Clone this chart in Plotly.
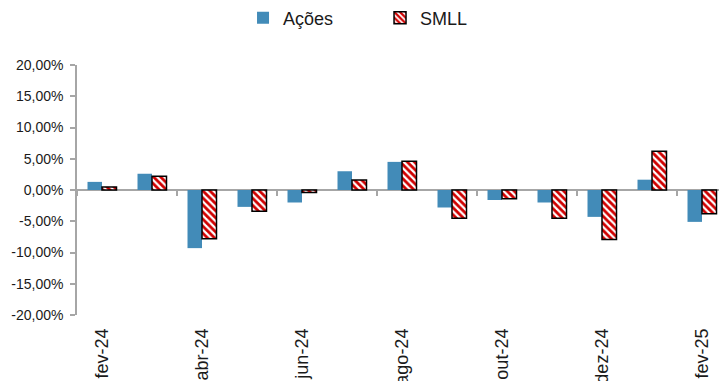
import plotly.graph_objects as go

# Monthly returns (%), fev-24 .. fev-25
months = ["fev-24", "mar-24", "abr-24", "mai-24", "jun-24", "jul-24", "ago-24",
          "set-24", "out-24", "nov-24", "dez-24", "jan-25", "fev-25"]
acoes = [1.3, 2.6, -9.3, -2.7, -2.0, 3.0, 4.5, -2.8, -1.6, -2.0, -4.3, 1.65, -5.1]
smll = [0.5, 2.2, -7.8, -3.4, -0.4, 1.6, 4.6, -4.5, -1.4, -4.5, -7.9, 6.2, -3.8]

y_ticks = [20, 15, 10, 5, 0, -5, -10, -15, -20]
y_ticktext = ["20,00%", "15,00%", "10,00%", "5,00%", "0,00%",
              "-5,00%", "-10,00%", "-15,00%", "-20,00%"]

FONT = "Liberation Sans, Arial, Helvetica, sans-serif"
GRAY = "#a6a6a6"
x_range = [-0.5, 12.34]

fig = go.Figure()
fig.add_trace(go.Bar(
    x=months, y=acoes, name="Ações",
    marker=dict(color="#428bb8", line=dict(width=0)),
))
fig.add_trace(go.Bar(
    x=months, y=smll, name="SMLL",
    marker=dict(
        color="white",
        line=dict(color="black", width=1.5),
        pattern=dict(shape="\\", fgcolor="#d00000", bgcolor="white",
                     fgopacity=1, size=5, solidity=0.55, fillmode="replace"),
    ),
))
# helper trace carrying the tick-mark axis that sits on the zero line
fig.add_trace(go.Scatter(x=[0], y=[0], xaxis="x2", mode="markers",
                         marker=dict(opacity=0), showlegend=False,
                         hoverinfo="skip"))

fig.update_layout(
    width=719, height=381,
    margin=dict(l=77, r=0, t=65, b=66, autoexpand=False),
    paper_bgcolor="white", plot_bgcolor="white",
    font=dict(family=FONT, color="#1a1a1a", size=14),
    barmode="group", bargap=0.42, bargroupgap=0,
    showlegend=True,
    legend=dict(orientation="h", x=0.472, xanchor="center",
                y=1 - 18 / 381, yref="container", yanchor="middle",
                font=dict(size=18, family=FONT), entrywidth=92,
                itemwidth=30, traceorder="normal"),
    xaxis=dict(
        type="category", range=x_range, tickmode="array",
        tickvals=months[::2], ticktext=months[::2], tickangle=-90,
        ticks="", showline=False, showgrid=False, zeroline=False,
        ticklabelstandoff=9, automargin=False,
        tickfont=dict(size=18, family=FONT),
    ),
    xaxis2=dict(
        overlaying="x", anchor="free", position=0.5, side="bottom",
        range=x_range, tick0=1.5, dtick=2, ticks="outside", ticklen=5,
        tickwidth=1.5, tickcolor=GRAY, showticklabels=False,
        showline=False, showgrid=False, zeroline=False,
    ),
    yaxis=dict(
        range=[-20, 20], tickmode="array", tickvals=y_ticks,
        ticktext=y_ticktext, ticks="outside", ticklen=5, tickwidth=1.5,
        tickcolor=GRAY, showline=True, linecolor=GRAY, linewidth=1.5,
        showgrid=False, zeroline=True, zerolinecolor=GRAY, zerolinewidth=2,
        ticklabelstandoff=4, automargin=False,
        tickfont=dict(size=14, family=FONT),
    ),
)

fig.write_html("out.html")
